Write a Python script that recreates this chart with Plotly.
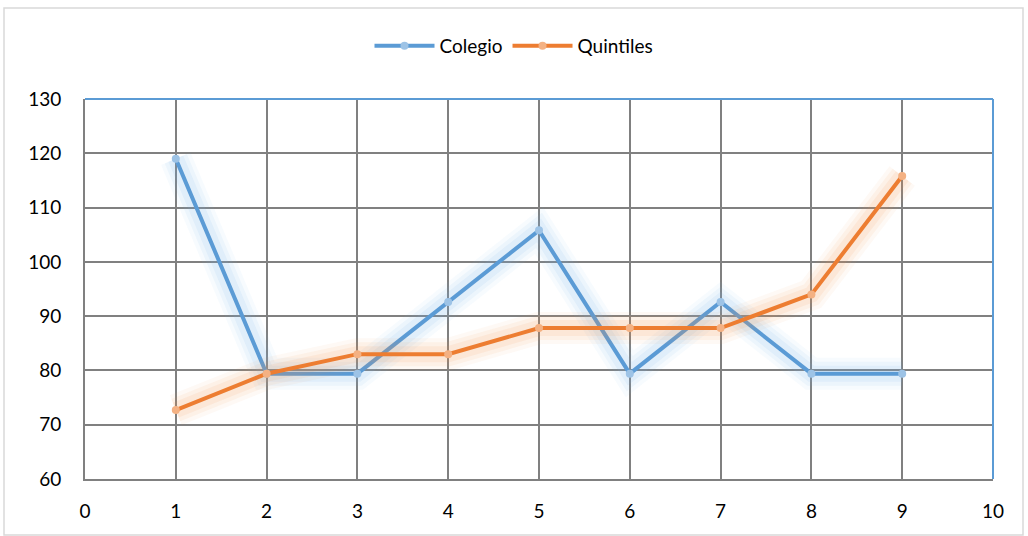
import plotly.graph_objects as go

x_vals = [1, 2, 3, 4, 5, 6, 7, 8, 9]
colegio = [119.0, 79.4, 79.4, 92.6, 105.8, 79.4, 92.6, 79.4, 79.4]
quintiles = [72.7, 79.4, 83.0, 83.0, 87.8, 87.8, 87.8, 94.0, 115.8]
x_ticks = list(range(0, 11))
y_ticks = list(range(60, 131, 10))

series = [
    ("Colegio", colegio, "#5b9bd5", "#9dc3e6", (120, 180, 235)),
    ("Quintiles", quintiles, "#ed7d31", "#f4b183", (245, 150, 80)),
]

fig = go.Figure()
for name, vals, col, mcol, rgb in series:
    for w, a in [(32, 0.06), (24, 0.08), (16, 0.1)]:
        fig.add_trace(go.Scatter(
            x=x_vals, y=vals, mode="lines",
            line=dict(color=f"rgba({rgb[0]},{rgb[1]},{rgb[2]},{a})", width=w),
            showlegend=False, hoverinfo="skip"))
    fig.add_trace(go.Scatter(
        x=x_vals, y=vals, mode="lines+markers", name=name,
        line=dict(color=col, width=4),
        marker=dict(color=mcol, size=8, line=dict(width=0))))

fig.update_layout(
    width=1028, height=536,
    margin=dict(l=85, r=35, t=99, b=57, autoexpand=False),
    paper_bgcolor="white", plot_bgcolor="white",
    font=dict(family="Lato, Open Sans, sans-serif", size=19, color="black"),
    legend=dict(orientation="h", x=0.5, xanchor="center", xref="container",
                y=1 - 46 / 536, yref="container", yanchor="middle",
                font=dict(size=19), bgcolor="rgba(0,0,0,0)",
                itemwidth=60, traceorder="normal"),
    xaxis=dict(range=[0, 10], tickvals=x_ticks, showgrid=True, gridcolor="#808080",
               gridwidth=1.5, showline=True, linecolor="#808080", linewidth=2,
               zeroline=False, ticks="", ticklabelstandoff=14, automargin=False,
               tickfont=dict(size=19)),
    yaxis=dict(range=[60, 130], tickvals=y_ticks, showgrid=True, gridcolor="#808080",
               gridwidth=1.5, showline=True, linecolor="#808080", linewidth=2,
               zeroline=False, ticks="", ticklabelstandoff=18, automargin=False,
               tickfont=dict(size=19)),
    shapes=[
        dict(type="line", xref="paper", yref="paper", x0=0, x1=1, y0=1, y1=1,
             line=dict(color="#5b9bd5", width=2)),
        dict(type="line", xref="paper", yref="paper", x0=1, x1=1, y0=0, y1=1,
             line=dict(color="#5b9bd5", width=2)),
        dict(type="rect", xref="paper", yref="paper",
             x0=(4 - 85) / 908, x1=(1023 - 85) / 908,
             y0=(479 - 535) / 380, y1=(479 - 8) / 380,
             line=dict(color="#d9d9d9", width=1.5), fillcolor="rgba(0,0,0,0)",
             layer="below"),
    ],
)
fig.write_html("out.html", config={"displayModeBar": False},
               post_script="document.body.style.margin='0px';document.body.style.padding='0px';")
